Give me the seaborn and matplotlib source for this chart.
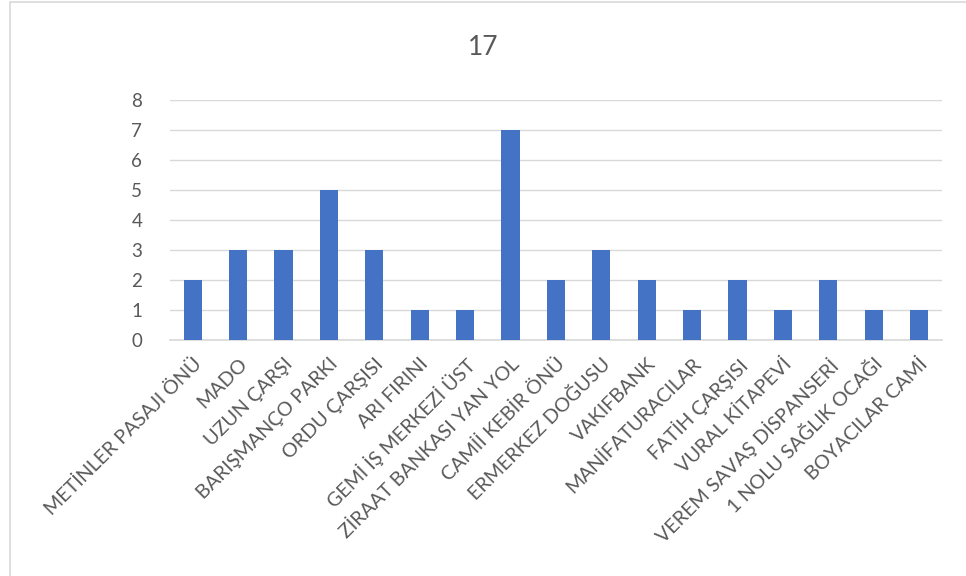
import matplotlib
matplotlib.use("Agg")
import matplotlib.pyplot as plt
import seaborn as sns
import pandas as pd
from matplotlib.patches import Rectangle

categories = ["METİNLER PASAJI ÖNÜ", "MADO", "UZUN ÇARŞI", "BARIŞMANÇO PARKI",
              "ORDU ÇARŞISI", "ARI FIRINI", "GEMİ İŞ MERKEZİ ÜST",
              "ZİRAAT BANKASI YAN YOL", "CAMİİ KEBİR ÖNÜ", "ERMERKEZ DOĞUSU",
              "VAKIFBANK", "MANİFATURACILAR", "FATİH ÇARŞISI", "VURAL KİTAPEVİ",
              "VEREM SAVAŞ DİSPANSERİ", "1 NOLU SAĞLIK OCAĞI", "BOYACILAR CAMİ"]
values = [2, 3, 3, 5, 3, 1, 1, 7, 2, 3, 2, 1, 2, 1, 2, 1, 1]
title = "17"
yticks = [0, 1, 2, 3, 4, 5, 6, 7, 8]

sns.set_theme(style="white")
plt.rcParams['font.family'] = ['Lato', 'DejaVu Sans']

df = pd.DataFrame({"cat": categories, "val": values})
fig = plt.figure(figsize=(9.66, 5.76), dpi=100)
ax = fig.add_axes([0.176, 0.41, 0.799, 0.416])
sns.barplot(data=df, x="cat", y="val", color="#4472C4", width=0.4,
            saturation=1, ax=ax, zorder=3, linewidth=0, edgecolor="none")
ax.set_ylim(0, 8)
ax.set_xlim(-0.5, len(categories) - 0.5)
ax.set_yticks(yticks)
ax.yaxis.grid(True, color="#D9D9D9", linewidth=1, zorder=0)
ax.set_axisbelow(True)
for s in ["top", "right", "left"]:
    ax.spines[s].set_visible(False)
ax.spines["bottom"].set_color("#D9D9D9")
ax.set_xlabel("")
ax.set_ylabel("")
ax.tick_params(axis="both", length=0, colors="#595959", labelsize=13.5)
ax.tick_params(axis="y", pad=20)
ax.tick_params(axis="x", pad=11)
ax.set_xticks(range(len(categories)))
ax.set_xticklabels(categories, rotation=45, ha="right", va="top",
                   rotation_mode="anchor", color="#595959", fontsize=14.2)
fig.text(0.5, 0.918, title, ha="center", va="center", fontsize=19, color="#595959")
fig.patches.append(Rectangle((0.01, -0.01), 1.2, 1.006, transform=fig.transFigure,
                             fill=False, edgecolor="#D9D9D9", linewidth=1.2))
fig.savefig("out.png", dpi=100)
